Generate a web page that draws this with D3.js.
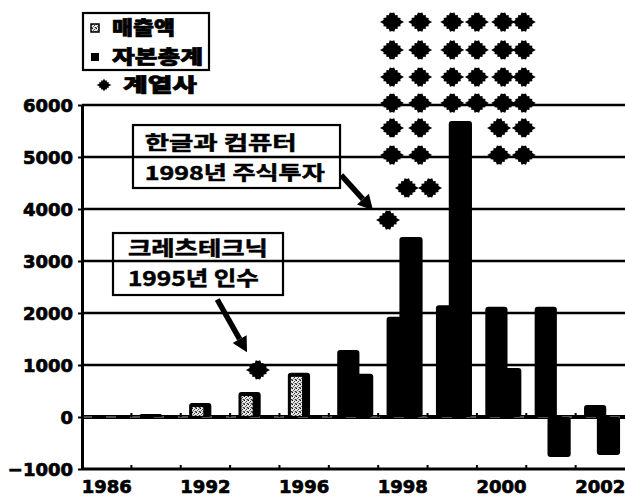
<!DOCTYPE html>
<html><head><meta charset="utf-8">
<script src="https://cdn.jsdelivr.net/npm/d3@7/dist/d3.min.js"></script>
<style>
html,body{margin:0;padding:0;background:#fff;}
svg{display:block;}
</style></head>
<body>
<svg id="chart" width="625" height="496"></svg>
<script>
// ---------- DATA ----------
const categories = ["1986","1990","1992","1995","1996","1997","1998","1999","2000","2001","2002"];
const sales  = [0, 60, 270, 480, 850, 1290, 1930, 2150, 2120, 2120, 230];   // 매출액
const equity = [0, 0, 0, 0, 0, 830, 3460, 5690, 940, -770, -730];           // 자본총계
const yTickValues = [-1000, 0, 1000, 2000, 3000, 4000, 5000, 6000];
const xTickLabels = ["1986","1992","1996","1998","2000","2002"];
const legendLabels = ["매출액", "자본총계", "계열사"];
// 계열사 pictogram stars: [position in category units, value on y axis]
const affiliateStars = [
  [6.28,7596],[6.85,7596],[7.50,7596],[8.00,7596],[8.53,7596],[8.95,7596],
  [6.28,7058],[6.85,7058],[7.50,7058],[8.00,7058],[8.53,7058],[8.95,7058],
  [6.28,6538],[6.85,6538],[7.50,6538],[8.00,6538],[8.53,6538],[8.95,6538],
  [6.28,6038],[6.85,6038],[7.50,6038],[8.00,6038],[8.53,6038],[8.95,6038],
  [6.28,5558],[6.85,5558],[8.45,5558],[8.95,5558],
  [6.28,5038],[6.85,5038],[8.45,5038],[8.95,5038],
  [6.58,4404],[7.05,4404],
  [6.20,3788],
  [3.565,904]
];
const annotationTexts = [
  ["한글과 컴퓨터", "1998년 주식투자"],
  ["크레츠테크닉", "1995년 인수"]
];

// ---------- LAYOUT ----------
const svg = d3.select("#chart");
const left = 82, right = 625;
const x = d3.scaleBand().domain(categories).range([left, right]).paddingInner(0).paddingOuter(0);
const xPos = d3.scaleLinear().domain([0, categories.length]).range([left, right]);
const y = d3.scaleLinear().domain([-1000, 6000]).range([469, 105]);
const bw = x.bandwidth();

const KR = "'Noto Sans CJK KR','Noto Sans CJK SC',sans-serif";
const NUM = "'DejaVu Sans',sans-serif";

// stipple pattern (grey dots)
const defs = svg.append("defs");
const pat = defs.append("pattern").attr("id","stip").attr("patternUnits","userSpaceOnUse")
  .attr("width",4).attr("height",4);
pat.append("rect").attr("width",4).attr("height",4).attr("fill","#e6e6e6");
[[0,0,"#111"],[2,1,"#444"],[1,2,"#666"],[3,3,"#333"],[3,0,"#999"],[0,3,"#888"],[2,3,"#aaa"]].forEach(p => {
  pat.append("rect").attr("x",p[0]).attr("y",p[1]).attr("width",1).attr("height",1).attr("fill",p[2]);
});

// gridlines (1000..6000)
svg.append("g").selectAll("line").data(yTickValues.filter(v => v > 0)).join("line")
  .attr("x1", left).attr("x2", right).attr("y1", d => y(d)).attr("y2", d => y(d))
  .attr("stroke","#000").attr("stroke-width",2.6);

// bottom axis line (-1000) and zero line
svg.append("line").attr("x1",left).attr("x2",right).attr("y1",y(-1000)).attr("y2",y(-1000))
  .attr("stroke","#000").attr("stroke-width",3);
svg.append("line").attr("x1",left).attr("x2",right).attr("y1",y(0)).attr("y2",y(0))
  .attr("stroke","#000").attr("stroke-width",4);
svg.append("line").attr("x1",left).attr("x2",right).attr("y1",y(0)).attr("y2",y(0))
  .attr("stroke","#fff").attr("stroke-width",0.8).attr("stroke-dasharray","10,14").attr("opacity",0.8);

// small ticks at category boundaries
const edges = categories.slice(1).map(c => x(c));
svg.append("g").selectAll("line").data(edges).join("line")
  .attr("x1", d => d).attr("x2", d => d).attr("y1", y(-1000)).attr("y2", y(-1000) - 4)
  .attr("stroke","#000").attr("stroke-width",2);
svg.append("g").selectAll("line").data(edges).join("line")
  .attr("x1", d => d).attr("x2", d => d).attr("y1", y(0)).attr("y2", y(0) - 4)
  .attr("stroke","#000").attr("stroke-width",2);

// left axis
const yAxis = d3.axisLeft(y).tickValues(yTickValues).tickSizeInner(4).tickSizeOuter(0).tickPadding(5)
  .tickFormat(d => d < 0 ? "\u22121000" : String(d));
const ga = svg.append("g").attr("transform",`translate(${left},0)`).call(yAxis);
ga.select(".domain").attr("stroke","#000").attr("stroke-width",3);
ga.selectAll(".tick line").attr("stroke","#000").attr("stroke-width",2);
ga.selectAll(".tick text").attr("font-family",NUM).attr("font-weight","bold").attr("font-size",18)
  .attr("fill","#000").attr("stroke","#000").attr("stroke-width",0.7).attr("dy","0.36em");

// x labels
svg.append("g").selectAll("text").data(xTickLabels).join("text")
  .attr("x", d => x(d) + bw/2).attr("y", 493).attr("text-anchor","middle")
  .attr("font-family",NUM).attr("font-weight","bold").attr("font-size",18).attr("fill","#000")
  .attr("stroke","#000").attr("stroke-width",0.7)
  .text(d => d);

// bars
const stippledThrough = 4; // early 매출액 bars show stipple inside
const gb = svg.append("g");
categories.forEach((c, i) => {
  const items = [
    {k:"s", v: sales[i], x0: x(c) + 0.17*bw, w: 0.45*bw},
    {k:"e", v: equity[i], x0: x(c) + 0.43*bw, w: 0.47*bw}
  ].filter(d => d.v !== 0).sort((a,b) => Math.abs(a.v) - Math.abs(b.v));
  items.forEach(d => {
    const top = Math.min(y(d.v), y(0)), h = Math.abs(y(d.v) - y(0));
    gb.append("rect").attr("x", d.x0).attr("y", top).attr("width", d.w).attr("height", h)
      .attr("rx", Math.min(3, h/2)).attr("fill","#000");
    if (d.k === "s" && i <= stippledThrough && h > 8) {
      gb.append("rect").attr("x", d.x0 + 3).attr("y", top + 4).attr("width", d.w - 11)
        .attr("height", h - 5).attr("fill","url(#stip)");
    }
  });
});

// star shape: spiky diamond
function starPath(rx, ry, n, depth) {
  const pts = [], p = 1.15;
  for (let i = 0; i < n; i++) {
    const a = i * 2 * Math.PI / n;
    const ca = Math.cos(a), sa = Math.sin(a);
    const env = Math.pow(Math.pow(Math.abs(ca)/rx, p) + Math.pow(Math.abs(sa)/ry, p), -1/p);
    const t = env * (i % 2 === 0 ? 1.0 : depth);
    pts.push([t*ca, -t*sa]);
  }
  return "M" + pts.map(q => q[0].toFixed(2) + "," + q[1].toFixed(2)).join("L") + "Z";
}
const sp = starPath(12, 11, 28, 0.82);
svg.append("g").selectAll("path").data(affiliateStars).join("path")
  .attr("d", sp).attr("transform", d => `translate(${xPos(d[0])},${y(d[1])})`)
  .attr("fill","#000");

// annotations (anchored in data space)
function arrow(x1, y1, x2, y2) {
  const ang = Math.atan2(y2 - y1, x2 - x1);
  const L = 15, W = 8;
  const bx = x2 - L*Math.cos(ang), by = y2 - L*Math.sin(ang);
  svg.append("line").attr("x1",x1).attr("y1",y1).attr("x2",bx).attr("y2",by)
    .attr("stroke","#000").attr("stroke-width",5.5);
  const px = -Math.sin(ang), py = Math.cos(ang);
  svg.append("path").attr("d",`M${x2},${y2}L${bx+px*W},${by+py*W}L${bx-px*W},${by-py*W}Z`).attr("fill","#000");
}
const annos = [
  {box:[1.033, 5615, 5.227, 4404], lines: annotationTexts[0], tx: 1.27, base:[5135, 4558], len:[152,180], fs:19,
   arrow:[5.25, 4650, 5.895, 3975]},
  {box:[0.628, 3538, 4.072, 2346], lines: annotationTexts[1], tx: 0.93, base:[3105, 2525], len:[140,131], fs:20,
   arrow:[2.74, 2260, 3.343, 1245]}
];
annos.forEach(a => {
  svg.append("rect").attr("x", xPos(a.box[0])).attr("y", y(a.box[1]))
    .attr("width", xPos(a.box[2]) - xPos(a.box[0])).attr("height", y(a.box[3]) - y(a.box[1]))
    .attr("fill","none").attr("stroke","#000").attr("stroke-width",2.2);
  a.lines.forEach((t, j) => {
    svg.append("text").attr("x", xPos(a.tx)).attr("y", y(a.base[j]))
      .attr("font-family",KR).attr("font-weight",700).attr("font-size",a.fs).attr("fill","#000")
      .attr("stroke","#000").attr("stroke-width",0.5)
      .attr("textLength", a.len[j]).attr("lengthAdjust","spacingAndGlyphs").text(t);
  });
  arrow(xPos(a.arrow[0]), y(a.arrow[1]), xPos(a.arrow[2]), y(a.arrow[3]));
});

// legend
const lg = svg.append("g");
lg.append("rect").attr("x",83).attr("y",13).attr("width",126).attr("height",57)
  .attr("fill","none").attr("stroke","#000").attr("stroke-width",2.2);
lg.append("rect").attr("x",91).attr("y",24).attr("width",8).attr("height",8)
  .attr("fill","url(#stip)").attr("stroke","#000").attr("stroke-width",1.5);
lg.append("rect").attr("x",91).attr("y",53).attr("width",8).attr("height",8).attr("fill","#000");
lg.append("path").attr("d", starPath(7.5, 6.5, 24, 0.75)).attr("transform","translate(104,85)").attr("fill","#000");
const legY = [35, 64, 92], legX = [112, 112, 123], legLen = [63, 91, 74];
legendLabels.forEach((t, i) => {
  lg.append("text").attr("x", legX[i]).attr("y", legY[i])
    .attr("font-family",KR).attr("font-weight",900).attr("font-size",19).attr("fill","#000")
    .attr("stroke","#000").attr("stroke-width",0.7)
    .attr("textLength", legLen[i]).attr("lengthAdjust","spacingAndGlyphs").text(t);
});
</script>
</body></html>
